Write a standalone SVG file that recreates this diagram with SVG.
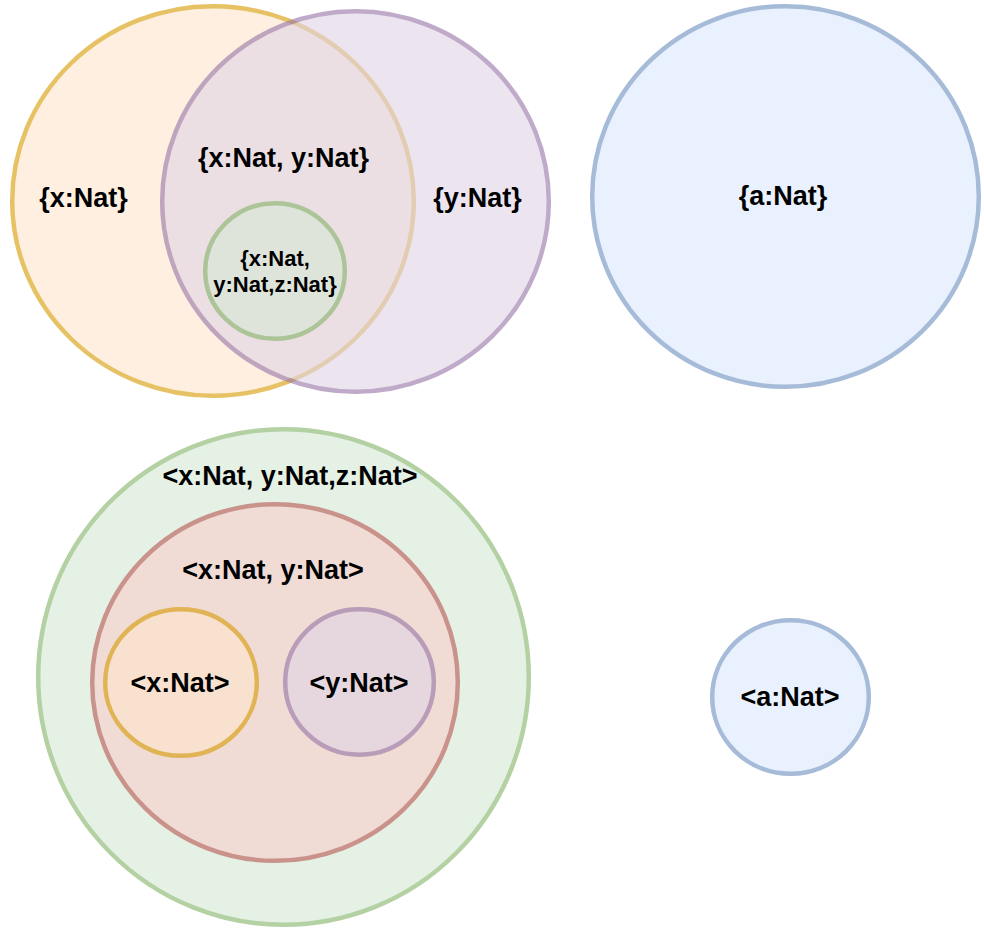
<svg xmlns="http://www.w3.org/2000/svg" width="984" height="932" viewBox="0 0 984 932">
<style>
.s{stroke-width:4.5;opacity:0.6}
.or{fill:#ffe6cc;stroke:#d79b00}
.pu{fill:#e1d5e7;stroke:#9673a6}
.gr{fill:#d5e8d4;stroke:#82b366}
.bl{fill:#dae8fc;stroke:#6c8ebf}
.rd{fill:#f8cecc;stroke:#b85450}
text{font-family:"Liberation Sans",Arial,sans-serif;font-weight:bold;font-size:27px;fill:#000;text-anchor:middle}
.sm{font-size:22px}
</style>
<rect width="984" height="932" fill="#ffffff"/>
<g id="set-x">
<ellipse class="s or" cx="213" cy="201" rx="200.8" ry="194.8"/>
</g>
<g id="set-y">
<ellipse class="s pu" cx="355.5" cy="201.5" rx="193.3" ry="190.3"/>
</g>
<g id="set-xyz">
<ellipse class="s gr" cx="275" cy="271" rx="69.8" ry="67.8"/>
</g>
<g id="labels-top">
<text x="83.5" y="207">{x:Nat}</text>
<text x="283.5" y="167">{x:Nat, y:Nat}</text>
<text x="477.5" y="207">{y:Nat}</text>
<text class="sm" x="275" y="266">{x:Nat,</text>
<text class="sm" x="275" y="292">y:Nat,z:Nat}</text>
</g>
<g id="set-a">
<ellipse class="s bl" cx="785.5" cy="196.5" rx="193.3" ry="190.3"/>
<text x="783" y="205">{a:Nat}</text>
</g>
<g id="tuple-xyz">
<ellipse class="s gr" cx="283.5" cy="677" rx="245.3" ry="247.8"/>
<text x="290" y="485">&lt;x:Nat, y:Nat,z:Nat&gt;</text>
</g>
<g id="tuple-xy">
<ellipse class="s rd" cx="275" cy="682.5" rx="182.8" ry="178.3"/>
<text x="273" y="579">&lt;x:Nat, y:Nat&gt;</text>
</g>
<g id="tuple-x">
<ellipse class="s or" cx="181" cy="682.5" rx="75.8" ry="73.3"/>
<text x="180" y="692">&lt;x:Nat&gt;</text>
</g>
<g id="tuple-y">
<ellipse class="s pu" cx="359.5" cy="682" rx="74.3" ry="72.8"/>
<text x="359" y="692">&lt;y:Nat&gt;</text>
</g>
<g id="tuple-a">
<ellipse class="s bl" cx="790.5" cy="697" rx="78.3" ry="76.8"/>
<text x="790" y="706">&lt;a:Nat&gt;</text>
</g>
<g id="connectors"></g>
</svg>
